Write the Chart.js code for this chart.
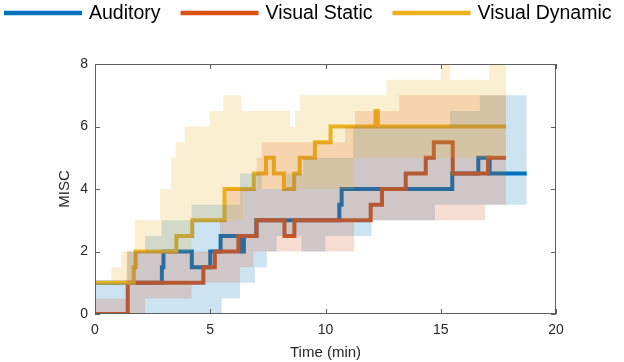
<!DOCTYPE html>
<html><head><meta charset="utf-8">
<script src="https://cdn.jsdelivr.net/npm/chart.js@4.4.1/dist/chart.umd.min.js"></script>
<style>html,body{margin:0;padding:0;background:#fff;}canvas{display:block;}</style>
</head><body>
<canvas id="c" width="624" height="362"></canvas>
<script>
// ---- data ----
const seriesNames = ['Auditory', 'Visual Static', 'Visual Dynamic'];
const xTicks = [0, 5, 10, 15, 20];
const yTicks = [0, 2, 4, 6, 8];

// median step lines (value holds from x[i] until x[i+1])
const audX = [0, 2.9, 2.97, 4.2, 5.0, 5.45, 6.36, 6.46, 7.0, 10.6, 10.7, 15.5, 16.63, 17.12, 18.73];
const audY = [1, 1.5, 2, 1.5, 2, 2.5, 2, 2.5, 3, 3.5, 4, 4.5, 5, 4.5, 4.5];
const vsX = [0, 1.42, 4.7, 5.2, 6.22, 7.01, 8.22, 8.65, 11.96, 12.45, 13.48, 14.35, 14.7, 15.52, 17.05, 17.83];
const vsY = [0, 1, 1.5, 2, 2.5, 3, 2.5, 3, 3.5, 4, 4.5, 5, 5.5, 4.5, 5, 5];
const vdX = [0, 1.68, 1.76, 3.53, 4.22, 5.62, 6.89, 7.42, 7.76, 8.2, 8.64, 8.88, 9.54, 10.22, 12.17, 12.27, 17.83];
const vdY = [1, 1.5, 2, 2.5, 3, 4, 4.5, 5, 4.5, 4, 4.5, 5, 5.5, 6, 6.5, 6, 6];

// shaded bands (lower / upper, stepped)
const audBandX  = [0, 1.4, 2.17, 2.89, 4.19, 5.5, 6.29, 6.94, 7.23, 7.45, 7.88, 8.31, 8.96, 9.04, 9.99, 11.2, 12.0, 14.75, 15.4, 16.7, 18.73];
const audBandLo = [0, 0,   0,    0,    0,    0.5, 1,    1.5,  1.5,  2,    2.5,  2.5,  2,    2,    2.5,  2.5,  3,    3.5,   3.5,  3.5,  3.5];
const audBandHi = [1, 2,   2.5,  3,    3.5,  3.5, 4.5,  4.5,  4,    4,    4,    4.5,  4.5,  5,    5,    6,    6,    6,     6.5,  7,    7];
const vsBandX  = [0,   1.37, 2.17, 4.19, 5.42, 5.7, 6.29, 6.87, 7.01, 7.23, 10.85, 11.24, 11.28, 13.2, 16.92, 17.83];
const vsBandLo = [0,   0,    0.5,  1,    1,    1,   1.5,  2,    2,    2,    2,     3,     3,     3,    3.5,   3.5];
const vsBandHi = [0.5, 2,    2,    2,    3,    4,   4,    4,    5,    5.5,  6,     6,     6.5,   7,    7,     7];
const vdBandX  = [0, 0.71, 1.14, 1.72, 2.82, 3.31, 3.5, 3.89, 4.19, 4.97, 5.57, 6.36, 6.43, 8.46, 8.68, 8.89, 11.24, 12.65, 15.0, 15.4, 17.1, 17.83];
const vdBandLo = [1, 1,    1,    2,    2,    2,    2,   2,    3,    3,    3,    3,    4,    4,    4,    4,    5,     5,     5,    5,    5,    5];
const vdBandHi = [1, 1.5,  2,    3,    4,    5,    5.5, 6,    6,    6.5,  7,    6.5,  6.5,  6,    6.5,  7,    7,     7.5,   8,    7.5,  8,    8];

// ---- styling ----
const colors = ['#0072BD', '#D95319', '#EDB120'];
const bandColors = ['rgba(0,114,189,0.2)', 'rgba(217,83,25,0.2)', 'rgba(237,177,32,0.2)'];
const FONT = "'Liberation Sans', Arial, Helvetica, sans-serif";
const AX = '#262626';

const pts = (xs, ys) => xs.map((x, i) => ({x: x, y: ys[i]}));
const lines = [[audX, audY], [vsX, vsY], [vdX, vdY]];
const bands = [[audBandX, audBandLo, audBandHi], [vsBandX, vsBandLo, vsBandHi], [vdBandX, vdBandLo, vdBandHi]];

const datasets = [];
// bands: lower (no fill) + upper (fill to lower); drawn above the lines
bands.forEach((b, i) => {
  const ord = 3 - i; // blue 3, orange 2, yellow 1 (yellow on top)
  datasets.push({label: '_lo' + i, data: pts(b[0], b[1]), stepped: 'before', borderWidth: 0,
    pointRadius: 0, fill: false, order: ord});
  datasets.push({label: '_hi' + i, data: pts(b[0], b[2]), stepped: 'before', borderWidth: 0,
    pointRadius: 0, fill: '-1', backgroundColor: bandColors[i], order: ord});
});
lines.forEach((l, i) => {
  datasets.push({label: seriesNames[i], data: pts(l[0], l[1]), stepped: 'before',
    borderColor: colors[i], backgroundColor: colors[i], borderWidth: 4, pointRadius: 0,
    fill: false, order: 6 - i, borderJoinStyle: 'miter', borderCapStyle: 'butt'});
});

const decor = {
  id: 'decor',
  afterDraw(chart) {
    const {ctx, chartArea: a, scales: {x, y}} = chart;
    ctx.save();
    // frame
    ctx.strokeStyle = '#5e5e5e';
    ctx.lineWidth = 1;
    ctx.strokeRect(Math.round(a.left) + 0.5, Math.round(a.top) + 0.5,
      Math.round(a.right - a.left) - 1, Math.round(a.bottom - a.top) - 1);
    // inward ticks on all four sides
    const tl = 5;
    ctx.beginPath();
    xTicks.forEach(v => {
      const px = Math.round(x.getPixelForValue(v)) + 0.5;
      ctx.moveTo(px, a.bottom); ctx.lineTo(px, a.bottom - tl);
      ctx.moveTo(px, a.top); ctx.lineTo(px, a.top + tl);
    });
    yTicks.forEach(v => {
      const py = Math.round(y.getPixelForValue(v)) + 0.5;
      ctx.moveTo(a.left, py); ctx.lineTo(a.left + tl, py);
      ctx.moveTo(a.right, py); ctx.lineTo(a.right - tl, py);
    });
    ctx.stroke();
    // legend
    ctx.font = '19.5px ' + FONT;
    ctx.textBaseline = 'middle';
    ctx.textAlign = 'left';
    let cx = 4;
    const ly = 13;
    seriesNames.forEach((n, i) => {
      ctx.strokeStyle = colors[i];
      ctx.lineWidth = 4.5;
      ctx.beginPath(); ctx.moveTo(cx, ly); ctx.lineTo(cx + 78, ly); ctx.stroke();
      ctx.fillStyle = '#000';
      ctx.fillText(n, cx + 85, ly + 1);
      cx += 85 + ctx.measureText(n).width + 20;
    });
    ctx.restore();
  }
};

new Chart(document.getElementById('c'), {
  type: 'line',
  data: {datasets: datasets},
  options: {
    responsive: false,
    animation: false,
    devicePixelRatio: 1,
    layout: {padding: {top: 64, right: 68, bottom: 0, left: 0}},
    plugins: {
      legend: {display: false},
      tooltip: {enabled: false},
      filler: {propagate: false}
    },
    elements: {line: {tension: 0}},
    scales: {
      x: {
        type: 'linear', min: 0, max: 20,
        afterFit: s => { s.height = 48; },
        afterBuildTicks: s => { s.ticks = xTicks.map(v => ({value: v})); },
        ticks: {color: AX, font: {family: FONT, size: 14}, padding: 8, maxRotation: 0},
        grid: {display: false, drawTicks: false},
        border: {display: false},
        title: {display: true, text: 'Time (min)', color: AX, font: {family: FONT, size: 15}, padding: {top: 0, bottom: 0}}
      },
      y: {
        type: 'linear', min: 0, max: 8,
        afterFit: s => { s.width = 95; },
        afterBuildTicks: s => { s.ticks = yTicks.map(v => ({value: v})); },
        ticks: {color: AX, font: {family: FONT, size: 14}, padding: 7},
        grid: {display: false, drawTicks: false},
        border: {display: false},
        title: {display: true, text: 'MISC', color: AX, font: {family: FONT, size: 15}, padding: {top: 56, bottom: 0}}
      }
    }
  },
  plugins: [decor]
});
</script>
</body></html>
